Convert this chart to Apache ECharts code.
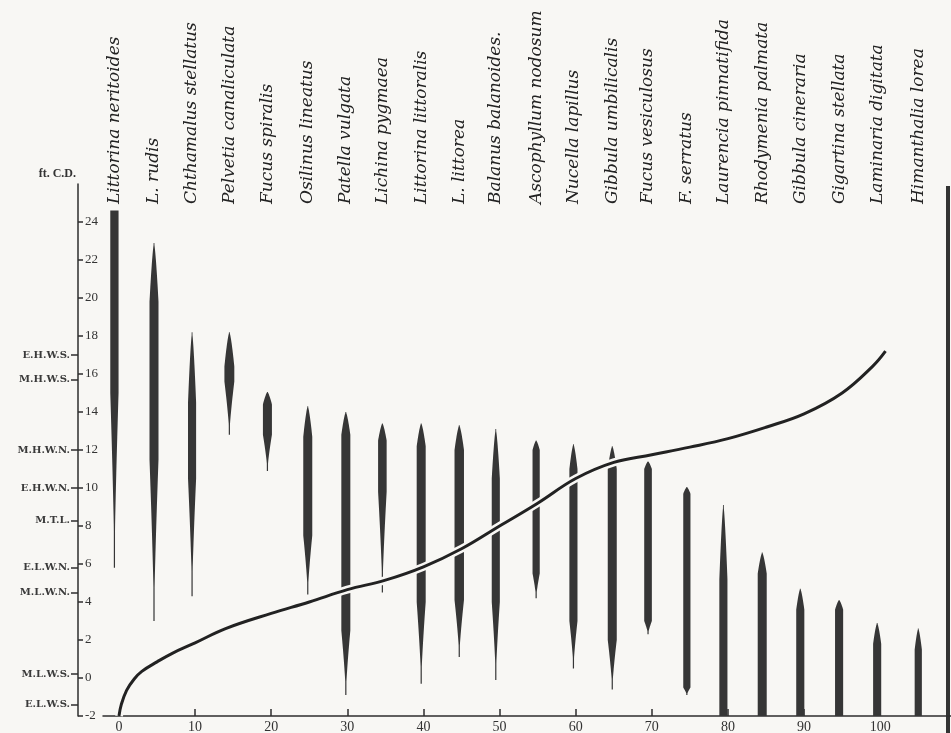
<!DOCTYPE html>
<html>
<head>
<meta charset="utf-8">
<script src="https://cdn.jsdelivr.net/npm/echarts@6/dist/echarts.min.js"></script>
<style>
  html, body { margin: 0; padding: 0; background: #f8f7f4; }
  #zonation { width: 951px; height: 733px; }
</style>
</head>
<body>
<div id="zonation"></div>
<script>
// species along the shore profile
var species = ['Littorina neritoides', 'L. rudis', 'Chthamalus stellatus', 'Pelvetia canaliculata',
  'Fucus spiralis', 'Osilinus lineatus', 'Patella vulgata', 'Lichina pygmaea', 'Littorina littoralis',
  'L. littorea', 'Balanus balanoides.', 'Ascophyllum nodosum', 'Nucella lapillus', 'Gibbula umbilicalis',
  'Fucus vesiculosus', 'F. serratus', 'Laurencia pinnatifida', 'Rhodymenia palmata', 'Gibbula cineraria',
  'Gigartina stellata', 'Laminaria digitata', 'Himanthalia lorea'];
var stations = [-0.6, 4.6, 9.6, 14.5, 19.5, 24.8, 29.8, 34.6, 39.7, 44.7, 49.5,
  54.8, 59.7, 64.8, 69.5, 74.6, 79.4, 84.5, 89.5, 94.6, 99.6, 105];
// vertical range (ft above chart datum): upper limit, start of full abundance, end of it, lower limit
var upperLimit = [24.6, 22.9, 18.2, 18.2, 15.05, 14.3, 14.0, 13.4, 13.4, 13.3, 13.1,
  12.5, 12.3, 12.2, 11.4, 10.05, 9.1, 6.6, 4.7, 4.1, 2.9, 2.6];
var fullFrom = [24.6, 19.8, 14.5, 16.4, 14.4, 12.7, 12.8, 12.5, 12.2, 12.0, 10.5,
  12.0, 11.0, 11.0, 11.0, 9.7, 5.2, 5.5, 3.6, 3.6, 1.8, 1.5];
var fullTo = [15.0, 11.5, 10.5, 15.6, 12.8, 7.5, 2.5, 9.8, 4.0, 4.1, 4.0,
  5.5, 3.0, 2.0, 3.0, -0.5, -2, -2, -2, -2, -2, -2];
var lowerLimit = [5.8, 3.0, 4.3, 12.8, 10.9, 4.4, -0.9, 4.5, -0.3, 1.1, -0.1,
  4.2, 0.5, -0.6, 2.3, -0.9, -2, -2, -2, -2, -2, -2];
var breadth = [0.92, 1.0, 0.9, 1.1, 1.0, 1.0, 1.0, 0.95, 1.0, 1.05, 0.9,
  0.8, 0.9, 1.0, 0.85, 0.8, 0.9, 1.0, 0.9, 0.9, 0.9, 0.8];

// shore profile curve
var shoreX = [0, 0.3, 1, 2, 3, 5, 7, 10, 14, 20, 25, 30, 35, 40, 45, 50, 55, 60, 65, 70, 75, 80, 85, 90, 95, 99, 100.7];
var shoreY = [-2, -1.4, -0.65, -0.05, 0.35, 0.85, 1.3, 1.85, 2.6, 3.4, 4.0, 4.65, 5.15, 5.85, 6.8, 8.0,
  9.2, 10.5, 11.35, 11.75, 12.15, 12.6, 13.2, 13.9, 15.0, 16.4, 17.2];

// tidal levels
var tideNames = ['E.H.W.S.', 'M.H.W.S.', 'M.H.W.N.', 'E.H.W.N.', 'M.T.L.', 'E.L.W.N.', 'M.L.W.N.', 'M.L.W.S.', 'E.L.W.S.'];
var tideLevels = [17, 15.7, 12, 10, 8.3, 5.8, 4.5, 0.2, -1.4];

var heightTicks = [-2, 0, 2, 4, 6, 8, 10, 12, 14, 16, 18, 20, 22, 24];
var distTicks = [0, 10, 20, 30, 40, 50, 60, 70, 80, 90, 100];

var serif = "'Liberation Serif', 'DejaVu Serif', serif";
var ink = '#2e2e2e';
var paper = '#f8f7f4';

var barData = stations.map(function (s, i) {
  return [s, upperLimit[i], fullFrom[i], fullTo[i], lowerLimit[i], breadth[i]];
});
var shoreData = shoreX.map(function (x, i) { return [x, shoreY[i]]; });

function renderBar(params, api) {
  var x = api.value(0), top = api.value(1), fTop = api.value(2);
  var fBot = api.value(3), bot = api.value(4), w = api.value(5) * 9;
  var steps = 24, k, v, half;
  var left = [], right = [];
  function add(lv, h) {
    var p = api.coord([x, lv]);
    left.push([p[0] - h, p[1]]);
    right.push([p[0] + h, p[1]]);
  }
  if (top > fTop) {
    for (k = 0; k <= steps; k++) {
      v = top - (top - fTop) * k / steps;
      half = Math.max(0.4, w / 2 * Math.pow(k / steps, 0.7));
      add(v, half);
    }
  } else {
    add(top, w / 2);
  }
  add(fBot, w / 2);
  if (fBot > bot) {
    for (k = 1; k <= steps; k++) {
      v = fBot - (fBot - bot) * k / steps;
      half = Math.max(0.6, w / 2 * Math.pow(1 - k / steps, 1.3));
      add(v, half);
    }
  }
  return {
    type: 'polygon',
    shape: { points: left.concat(right.reverse()) },
    style: { fill: '#363636' }
  };
}

var chart = echarts.init(document.getElementById('zonation'));
var option = {
  backgroundColor: paper,
  animation: false,
  grid: { left: 103, right: 0, top: 184, bottom: 17, outerBoundsMode: 'none' },
  xAxis: [{
    type: 'value',
    position: 'bottom',
    min: -2.1,
    max: 109.3,
    splitLine: { show: false },
    axisLine: { onZero: false, lineStyle: { color: ink, width: 1.5 } },
    axisTick: { inside: true, length: 7, customValues: distTicks, lineStyle: { color: ink, width: 1.5 } },
    axisLabel: { customValues: distTicks, margin: 4, color: '#333', fontFamily: serif, fontSize: 14 }
  }, {
    type: 'value',
    position: 'top',
    offset: -22,
    min: -2.1,
    max: 109.3,
    splitLine: { show: false },
    axisLine: { show: false, onZero: false },
    axisTick: { show: false },
    axisLabel: {
      customValues: stations,
      rotate: -90,
      margin: 2,
      color: '#222',
      fontFamily: "'DejaVu Serif', serif",
      fontStyle: 'italic',
      fontSize: 17,
      formatter: function (v) {
        var i = stations.indexOf(v);
        return i < 0 ? '' : species[i];
      }
    }
  }],
  yAxis: [{
    type: 'value',
    position: 'left',
    offset: 25,
    min: -2,
    max: 26,
    interval: 2,
    name: 'ft. C.D.',
    nameGap: 4,
    nameMoveOverlap: false,
    nameTextStyle: { align: 'right', color: '#333', fontFamily: serif, fontSize: 12, fontWeight: 'bold', padding: [0, 2, 0, 0] },
    splitLine: { show: false },
    axisLine: { show: true, onZero: false, lineStyle: { color: ink, width: 1.5 } },
    axisTick: { show: true, inside: true, length: 5, customValues: heightTicks, lineStyle: { color: ink, width: 1.5 } },
    axisLabel: { inside: true, customValues: heightTicks, margin: 7, color: '#333', fontFamily: serif, fontSize: 13 }
  }, {
    type: 'value',
    position: 'left',
    offset: 25,
    min: -2,
    max: 26,
    splitLine: { show: false },
    axisLine: { show: false, onZero: false },
    axisTick: { show: true, length: 7, customValues: tideLevels, lineStyle: { color: ink, width: 1.5 } },
    axisLabel: {
      customValues: tideLevels,
      margin: 8,
      color: '#3a3a3a',
      fontFamily: "'DejaVu Serif', serif",
      fontSize: 10,
      fontWeight: 'bold',
      formatter: function (v) {
        var i = tideLevels.indexOf(v);
        return i < 0 ? '' : tideNames[i];
      }
    }
  }],
  graphic: [{
    type: 'rect',
    right: 1,
    top: 186,
    shape: { width: 4, height: 547 },
    style: { fill: '#333' }
  }],
  series: [{
    name: 'zones',
    type: 'custom',
    renderItem: renderBar,
    clip: true,
    encode: { x: 0, y: [1, 4] },
    data: barData,
    z: 2
  }, {
    name: 'shore halo',
    type: 'line',
    data: shoreData,
    smooth: 0.4,
    showSymbol: false,
    lineStyle: { color: paper, width: 8 },
    z: 3
  }, {
    name: 'shore',
    type: 'line',
    data: shoreData,
    smooth: 0.4,
    showSymbol: false,
    lineStyle: { color: '#222', width: 3 },
    z: 4
  }]
};
chart.setOption(option);
</script>
</body>
</html>
